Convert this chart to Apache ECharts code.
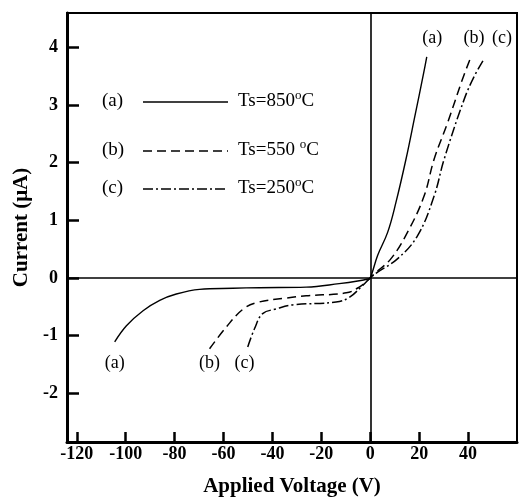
<!DOCTYPE html>
<html>
<head>
<meta charset="utf-8">
<script src="https://cdn.jsdelivr.net/npm/echarts@6/dist/echarts.min.js"></script>
<style>
  html, body { margin: 0; padding: 0; background: #fff; }
  #chart { width: 520px; height: 498px; }
</style>
</head>
<body>
<div id="chart"></div>
<script>
// 曲线数据 (电压 V, 电流 uA)
var aVolt = [-104.5, -99.7, -92.9, -86.1, -79.3, -69.8, -56.2, -45.3, -26.2, -12.7, -4.5, -1.1, 0, 3, 7.1, 10.5, 14.6, 18.2, 21.8, 23.1];
var aCurr = [-1.11, -0.83, -0.57, -0.39, -0.28, -0.20, -0.18, -0.17, -0.16, -0.10, -0.05, -0.02, 0, 0.39, 0.79, 1.31, 2.06, 2.8, 3.55, 3.84];

var bVolt = [-65.7, -58.8, -52.2, -46.5, -34.3, -26.2, -9.8, -4.5, 0, 1.6, 8.4, 15.2, 22, 26.1, 31.5, 37.7, 41.1];
var bCurr = [-1.23, -0.85, -0.55, -0.43, -0.35, -0.31, -0.26, -0.16, 0, 0.07, 0.33, 0.79, 1.42, 2.06, 2.68, 3.45, 3.83];

var cVolt = [-50.1, -47.3, -44, -38.5, -31.8, -14, -8.6, -3.1, 0, 3, 11.1, 19.3, 26.1, 30.2, 38.4, 42.4, 46.5];
var cCurr = [-1.20, -0.88, -0.62, -0.54, -0.47, -0.42, -0.34, -0.13, 0, 0.1, 0.33, 0.73, 1.42, 2.06, 3.1, 3.49, 3.8];

var xTicks = [-120, -100, -80, -60, -40, -20, 0, 20, 40];
var yTicks = [-2, -1, 0, 1, 2, 3, 4];

// 曲线标注
var curveLabels = [
  { name: '(a)', coord: [25.3, 4.16] },
  { name: '(b)', coord: [42.4, 4.16] },
  { name: '(c)', coord: [53.9, 4.16] },
  { name: '(a)', coord: [-104.5, -1.49] },
  { name: '(b)', coord: [-65.7, -1.49] },
  { name: '(c)', coord: [-51.4, -1.49] }
];

var legendKeys = ['(a)', '(b)', '(c)'];
var legendTexts = ['Ts=850{sup|o}C', 'Ts=550 {sup|o}C', 'Ts=250{sup|o}C'];

var font = 'Liberation Serif';

function pairs(xs, ys) {
  return xs.map(function (x, i) { return [x, ys[i]]; });
}

var chart = echarts.init(document.getElementById('chart'));

var legendY = [102, 151, 189];
var legendDash = [null, [9, 5], [10, 3, 2, 3]];
var graphics = [];
legendKeys.forEach(function (k, i) {
  graphics.push({
    type: 'text', left: 102, top: legendY[i] - 10,
    style: { text: k, font: '19px "' + font + '"', fill: '#000' }
  });
  graphics.push({
    type: 'line',
    shape: { x1: 143, y1: legendY[i], x2: 228, y2: legendY[i] },
    style: { stroke: '#000', lineWidth: 1.4, lineDash: legendDash[i] }
  });
  graphics.push({
    type: 'text', left: 238, top: legendY[i] - 13,
    style: {
      text: legendTexts[i],
      font: '19px "' + font + '"', fill: '#000',
      rich: {
        sup: { fontSize: 13, fontFamily: font, padding: [0, 0, 11, 0], fill: '#000' }
      }
    }
  });
});

var option = {
  animation: false,
  backgroundColor: '#fff',
  grid: {
    left: 67, right: 3, top: 13, bottom: 56,
    outerBoundsMode: 'none',
    show: true, borderColor: '#000', borderWidth: 2
  },
  xAxis: {
    type: 'value', min: -124, max: 60,
    name: 'Applied Voltage (V)', nameLocation: 'middle', nameGap: 34,
    nameTextStyle: { fontFamily: font, fontSize: 21, fontWeight: 'bold', color: '#000' },
    axisLine: { onZero: false, lineStyle: { color: '#000', width: 3 } },
    axisTick: { inside: true, length: 10, customValues: xTicks, lineStyle: { color: '#000', width: 2.5 } },
    axisLabel: { customValues: xTicks, fontFamily: font, fontSize: 18, fontWeight: 'bold', color: '#000', margin: 3 },
    splitLine: { show: false }
  },
  yAxis: {
    type: 'value', min: -2.85, max: 4.6,
    name: 'Current (μA)', nameLocation: 'middle', nameGap: 31,
    nameTextStyle: { fontFamily: font, fontSize: 21, fontWeight: 'bold', color: '#000' },
    axisLine: { onZero: false, lineStyle: { color: '#000', width: 3 } },
    axisTick: { inside: true, length: 12, customValues: yTicks, lineStyle: { color: '#000', width: 2.5 } },
    axisLabel: { customValues: yTicks, fontFamily: font, fontSize: 18, fontWeight: 'bold', color: '#000', margin: 9 },
    splitLine: { show: false }
  },
  graphic: graphics,
  series: [
    {
      name: 'a', type: 'line', data: pairs(aVolt, aCurr),
      smooth: 0.4, showSymbol: false,
      lineStyle: { color: '#000', width: 1.4, type: 'solid' },
      markLine: {
        silent: true, symbol: 'none', label: { show: false },
        lineStyle: { color: '#000', width: 1.6, type: 'solid' },
        data: [{ xAxis: 0 }, { yAxis: 0 }]
      },
      markPoint: {
        symbol: 'circle', symbolSize: 1,
        itemStyle: { color: 'rgba(0,0,0,0)' },
        label: { show: true, position: 'inside', formatter: '{b}', fontFamily: font, fontSize: 18, color: '#000' },
        data: curveLabels
      }
    },
    {
      name: 'b', type: 'line', data: pairs(bVolt, bCurr),
      smooth: 0.4, showSymbol: false,
      lineStyle: { color: '#000', width: 1.5, type: [9, 5] }
    },
    {
      name: 'c', type: 'line', data: pairs(cVolt, cCurr),
      smooth: 0.4, showSymbol: false,
      lineStyle: { color: '#000', width: 1.5, type: [10, 3, 2, 3] }
    }
  ]
};

chart.setOption(option);
</script>
</body>
</html>
